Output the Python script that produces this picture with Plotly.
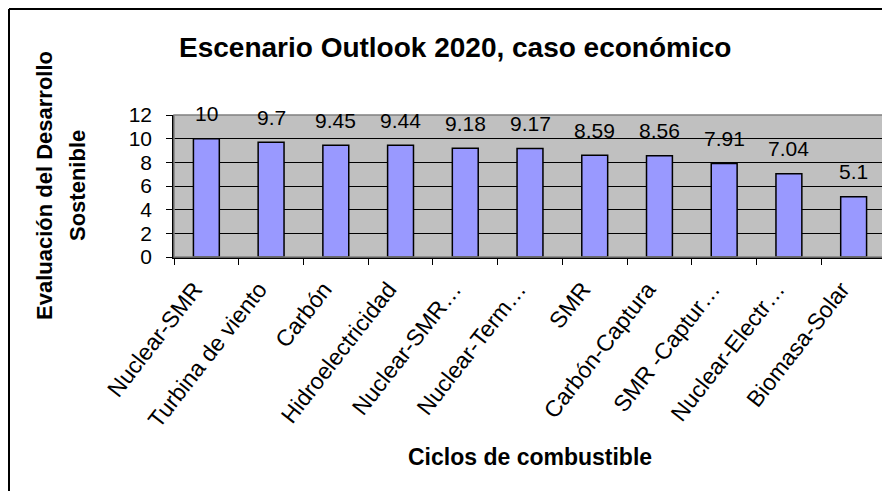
import plotly.graph_objects as go

categories = ["Nuclear-SMR", "Turbina de viento", "Carbón", "Hidroelectricidad",
              "Nuclear-SMR…", "Nuclear-Term…", "SMR", "Carbón-Captura",
              "SMR -Captur…", "Nuclear-Electr…", "Biomasa-Solar"]
values = [10, 9.7, 9.45, 9.44, 9.18, 9.17, 8.59, 8.56, 7.91, 7.04, 5.1]
value_labels = ["10", "9.7", "9.45", "9.44", "9.18", "9.17", "8.59", "8.56", "7.91", "7.04", "5.1"]
y_ticks = [0, 2, 4, 6, 8, 10, 12]

FONT = "Arial, Liberation Sans, sans-serif"
OFF = 8  # page body margin
W, H = 890 - OFF, 491 - OFF
# target screen coordinates of plot area
SL, SR, ST, SB = 174, 886, 115, 257
ML, MT = SL - OFF, ST - OFF
MR = W - (SR - OFF)
MB = H - (SB - OFF)
PW, PH = W - ML - MR, H - MT - MB


def px_x(sx):
    return (sx - OFF - ML) / PW


def px_y(sy):
    return 1 - (sy - OFF - MT) / PH


fig = go.Figure()
fig.add_trace(go.Bar(
    x=categories, y=values,
    marker=dict(color="#9999FF", line=dict(color="black", width=1.5)),
    hoverinfo="skip",
))

for c, v, t in zip(categories, values, value_labels):
    fig.add_annotation(x=c, y=v, text=t, showarrow=False, yanchor="middle",
                       yshift=25, font=dict(family=FONT, size=21, color="black"))

# plot area border (gray)
fig.add_shape(type="rect", xref="paper", yref="paper", x0=0, y0=0, x1=1, y1=1,
              line=dict(color="#808080", width=1.5), layer="above")

# outer chart frame (top and left edges visible)
fx = px_x(9)
fy = px_y(9)
fig.add_shape(type="line", xref="paper", yref="paper", x0=fx, x1=fx,
              y0=px_y(520), y1=fy, line=dict(color="black", width=2))
fig.add_shape(type="line", xref="paper", yref="paper", x0=fx, x1=px_x(920),
              y0=fy, y1=fy, line=dict(color="black", width=2))

fig.add_annotation(text="<b>Escenario Outlook 2020, caso económico</b>",
                   xref="paper", yref="paper", x=px_x(455), y=px_y(47),
                   showarrow=False, xanchor="center", yanchor="middle",
                   font=dict(family=FONT, size=28, color="black"))

fig.add_annotation(text="<b>Evaluación del Desarrollo</b>",
                   xref="paper", yref="paper", x=px_x(44), y=px_y(186),
                   showarrow=False, xanchor="center", yanchor="middle", textangle=-90,
                   font=dict(family=FONT, size=22, color="black"))
fig.add_annotation(text="<b>Sostenible</b>",
                   xref="paper", yref="paper", x=px_x(77), y=px_y(186),
                   showarrow=False, xanchor="center", yanchor="middle", textangle=-90,
                   font=dict(family=FONT, size=22, color="black"))

fig.add_annotation(text="<b>Ciclos de combustible</b>",
                   xref="paper", yref="paper", x=px_x(530), y=px_y(457),
                   showarrow=False, xanchor="center", yanchor="middle",
                   font=dict(family=FONT, size=23, color="black"))

fig.update_layout(
    width=W, height=H,
    margin=dict(l=ML, r=MR, t=MT, b=MB, autoexpand=False),
    paper_bgcolor="white", plot_bgcolor="#C0C0C0",
    bargap=0.6, showlegend=False,
    xaxis=dict(
        type="category", categoryorder="array", categoryarray=categories,
        tickson="boundaries", automargin=False,
        tickangle=-52, tickfont=dict(family=FONT, size=23, color="black"),
        ticklabelstandoff=8, ticklabelshift=-12,
        showgrid=False, showline=True, linecolor="black", linewidth=1.5,
        ticks="outside", ticklen=6, tickcolor="black", zeroline=False,
    ),
    yaxis=dict(
        range=[0, 12], tickvals=y_ticks, automargin=False,
        tickfont=dict(family=FONT, size=21, color="black"),
        ticklabelstandoff=10,
        showgrid=True, gridcolor="black", gridwidth=1,
        showline=True, linecolor="black", linewidth=1.5,
        ticks="outside", ticklen=6, tickcolor="black", zeroline=False,
    ),
)

fig.write_html("out.html")
